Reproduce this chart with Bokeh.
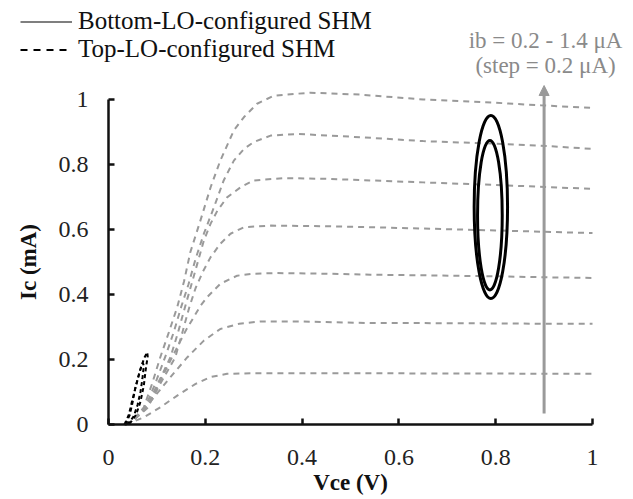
from bokeh.plotting import figure
from bokeh.models import Range1d, Legend, LegendItem, Label, Arrow, NormalHead, FixedTicker
from bokeh.core.properties import value
from bokeh.embed import file_html
from bokeh.resources import INLINE
import math

# ---- data ----
ib_values = [0.2, 0.4, 0.6, 0.8, 1.0, 1.2, 1.4]  # uA

c1_x = [0.035, 0.05, 0.073, 0.107, 0.142, 0.18, 0.211, 0.245, 0.30, 0.40, 0.541, 0.65, 0.8, 0.9, 1.0]
c1_y = [0, 0.008, 0.022, 0.053, 0.089, 0.125, 0.146, 0.156, 0.158, 0.158, 0.158, 0.157, 0.157, 0.156, 0.156]

c2_x = [0.035, 0.05, 0.07, 0.094, 0.128, 0.163, 0.197, 0.231, 0.27, 0.314, 0.40, 0.541, 0.65, 0.8, 0.9, 1.0]
c2_y = [0, 0.01, 0.04, 0.084, 0.146, 0.207, 0.258, 0.294, 0.31, 0.317, 0.317, 0.312, 0.312, 0.311, 0.31, 0.31]

c3_x = [0.035, 0.05, 0.087, 0.114, 0.142, 0.160, 0.176, 0.19, 0.204, 0.231, 0.266, 0.30, 0.349, 0.45, 0.541, 0.65, 0.8, 0.9, 1.0]
c3_y = [0, 0.012, 0.074, 0.156, 0.238, 0.29, 0.33, 0.365, 0.392, 0.433, 0.458, 0.464, 0.466, 0.464, 0.461, 0.459, 0.456, 0.453, 0.451]

c4_x = [0.035, 0.05, 0.08, 0.105, 0.138, 0.152, 0.167, 0.18, 0.195, 0.211, 0.231, 0.252, 0.28, 0.335, 0.45, 0.541, 0.65, 0.8, 0.9, 1.0]
c4_y = [0, 0.012, 0.05, 0.12, 0.207, 0.28, 0.361, 0.42, 0.47, 0.515, 0.556, 0.587, 0.607, 0.612, 0.61, 0.607, 0.603, 0.597, 0.593, 0.589]

c5_x = [0.035, 0.05, 0.078, 0.1, 0.128, 0.143, 0.158, 0.175, 0.197, 0.211, 0.225, 0.245, 0.273, 0.30, 0.362, 0.45, 0.541, 0.65, 0.8, 0.9, 1.0]
c5_y = [0, 0.012, 0.05, 0.12, 0.207, 0.28, 0.361, 0.45, 0.566, 0.618, 0.658, 0.699, 0.730, 0.751, 0.758, 0.756, 0.751, 0.745, 0.737, 0.731, 0.725]

c6_x = [0.035, 0.05, 0.075, 0.095, 0.117, 0.135, 0.150, 0.165, 0.18, 0.197, 0.218, 0.238, 0.259, 0.28, 0.30, 0.335, 0.39, 0.52, 0.65, 0.8, 0.893, 1.0]
c6_y = [0, 0.012, 0.05, 0.12, 0.207, 0.285, 0.361, 0.43, 0.51, 0.587, 0.669, 0.751, 0.812, 0.848, 0.869, 0.889, 0.894, 0.884, 0.872, 0.864, 0.858, 0.848]

c7_x = [0.035, 0.05, 0.073, 0.09, 0.107, 0.125, 0.142, 0.156, 0.169, 0.19, 0.211, 0.231, 0.259, 0.28, 0.307, 0.342, 0.417, 0.52, 0.65, 0.8, 0.893, 1.0]
c7_y = [0, 0.012, 0.053, 0.125, 0.207, 0.285, 0.361, 0.44, 0.53, 0.628, 0.73, 0.812, 0.905, 0.946, 0.987, 1.012, 1.021, 1.015, 1.0, 0.99, 0.982, 0.974]

curves_x = [c1_x, c2_x, c3_x, c4_x, c5_x, c6_x, c7_x]
curves_y = [c1_y, c2_y, c3_y, c4_y, c5_y, c6_y, c7_y]

# Bottom-LO-configured SHM load-line loops (ellipse centre / size in V, mA)
bot_cx = [0.790, 0.788]
bot_cy = [0.669, 0.644]
bot_w = [0.069, 0.051]
bot_h = [0.564, 0.460]

# Top-LO-configured SHM loops (near the origin)
topA_x = [0.033, 0.042, 0.050, 0.057, 0.066, 0.074, 0.080, 0.081, 0.077, 0.073, 0.066, 0.057, 0.045, 0.033]
topA_y = [0.0, 0.030, 0.080, 0.120, 0.170, 0.205, 0.222, 0.210, 0.170, 0.120, 0.070, 0.030, 0.005, 0.0]
topB_x = [0.035, 0.044, 0.050, 0.055, 0.062, 0.068, 0.071, 0.073, 0.070, 0.066, 0.060, 0.052, 0.042, 0.035]
topB_y = [0.0, 0.030, 0.070, 0.110, 0.150, 0.180, 0.190, 0.180, 0.140, 0.100, 0.060, 0.025, 0.005, 0.0]

x_ticks = [0, 0.2, 0.4, 0.6, 0.8, 1]
x_tick_labels = ["0", "0.2", "0.4", "0.6", "0.8", "1"]
y_ticks = [0, 0.2, 0.4, 0.6, 0.8, 1]
y_tick_labels = ["0", "0.2", "0.4", "0.6", "0.8", "1"]

legend_labels = ["Bottom-LO-configured SHM", "Top-LO-configured SHM"]

arrow_x = 0.9
arrow_y0 = 0.034
arrow_y1 = 1.043

SERIF = "Liberation Serif"
NAN = float("nan")

# frame fills the whole canvas; x=0 sits 108 px from the left, y=0 75 px above the bottom
PXX = 484.0
PXY = 325.0
p = figure(width=633, height=499, output_backend="svg", toolbar_location=None,
           x_range=Range1d(-108 / PXX, 525 / PXX), y_range=Range1d(-75 / PXY, 424 / PXY),
           min_border=0)
p.outline_line_color = None
p.grid.visible = False
p.background_fill_color = "white"
p.border_fill_color = "white"

for ax, ticks in ((p.xaxis, x_ticks), (p.yaxis, y_ticks)):
    ax.ticker = FixedTicker(ticks=ticks)
    ax.fixed_location = 0
    ax.bounds = (0, 1)
    ax.axis_line_color = "#111111"
    ax.axis_line_width = 2.5
    ax.major_tick_line_color = "#111111"
    ax.major_tick_line_width = 2.5
    ax.major_tick_in = 6
    ax.major_tick_out = 0
    ax.minor_tick_line_color = None
    ax.major_label_text_font_size = "0px"
    ax.major_label_standoff = 0
    ax.major_label_overrides = {t: "" for t in ticks}

# tick labels
p.text(x=x_ticks, y=[-(457 - 424) / PXY] * len(x_ticks), text=x_tick_labels,
       text_align="center", text_baseline="middle", text_font=value(SERIF),
       text_font_size="24px", text_color="#222222")
p.text(x=[-20 / PXX] * len(y_ticks), y=y_ticks, text=y_tick_labels,
       text_align="right", text_baseline="middle", text_font=value(SERIF),
       text_font_size="24px", text_color="#222222")

# ib family (gray dashed)
for cx, cy in zip(curves_x, curves_y):
    p.line(cx, cy, line_color="#9a9a9a", line_width=2, line_dash="6 5")

# top-LO loops (black dashed)
p.line(topA_x, topA_y, line_color="black", line_width=2, line_dash="4 3")
p.line(topB_x, topB_y, line_color="black", line_width=2, line_dash="4 3")

# bottom-LO loops (black solid)
p.ellipse(x=bot_cx, y=bot_cy, width=bot_w, height=bot_h, fill_alpha=0,
          line_color="black", line_width=3)

# arrow
p.add_layout(Arrow(x_start=arrow_x, y_start=arrow_y0, x_end=arrow_x, y_end=arrow_y1,
                   line_color="#9a9a9a", line_width=3,
                   end=NormalHead(size=10, fill_color="#9a9a9a", line_color="#9a9a9a")))

p.add_layout(Label(x=0.903, y=1.182, text="ib = 0.2 - 1.4 \u03bcA", text_align="center",
                   text_baseline="middle", text_font=SERIF, text_font_size="23px",
                   text_color="#8a8a8a"))
p.add_layout(Label(x=0.903, y=1.105, text="(step = 0.2 \u03bcA)", text_align="center",
                   text_baseline="middle", text_font=SERIF, text_font_size="23px",
                   text_color="#8a8a8a"))

# axis titles
p.add_layout(Label(x=0.5, y=-(482 - 424) / PXY, text="Vce (V)", text_align="center",
                   text_baseline="middle", text_font=SERIF, text_font_size="23px",
                   text_font_style="bold", text_color="#111111"))
p.add_layout(Label(x=-(108 - 28) / PXX, y=0.5, text="Ic (mA)", text_align="center",
                   text_baseline="middle", text_font=SERIF, text_font_size="23px",
                   text_font_style="bold", text_color="#111111", angle=math.pi / 2))

# legend (line samples only; no data of their own)
rS = p.line([NAN, NAN], [NAN, NAN], line_color="#555555", line_width=1.5)
rD = p.line([NAN, NAN], [NAN, NAN], line_color="black", line_width=2, line_dash="7 6")
legend = Legend(items=[LegendItem(label=legend_labels[0], renderers=[rS], index=0),
                       LegendItem(label=legend_labels[1], renderers=[rD], index=0)],
                location=(20, 436), orientation="vertical",
                glyph_width=52, glyph_height=27, label_height=27, label_standoff=6,
                spacing=0, padding=0, margin=0,
                label_text_font=SERIF, label_text_font_size="25px",
                label_text_color="#111111",
                border_line_alpha=0, background_fill_alpha=0)
p.add_layout(legend, "center")

open("out.html", "w").write(file_html(p, INLINE))
